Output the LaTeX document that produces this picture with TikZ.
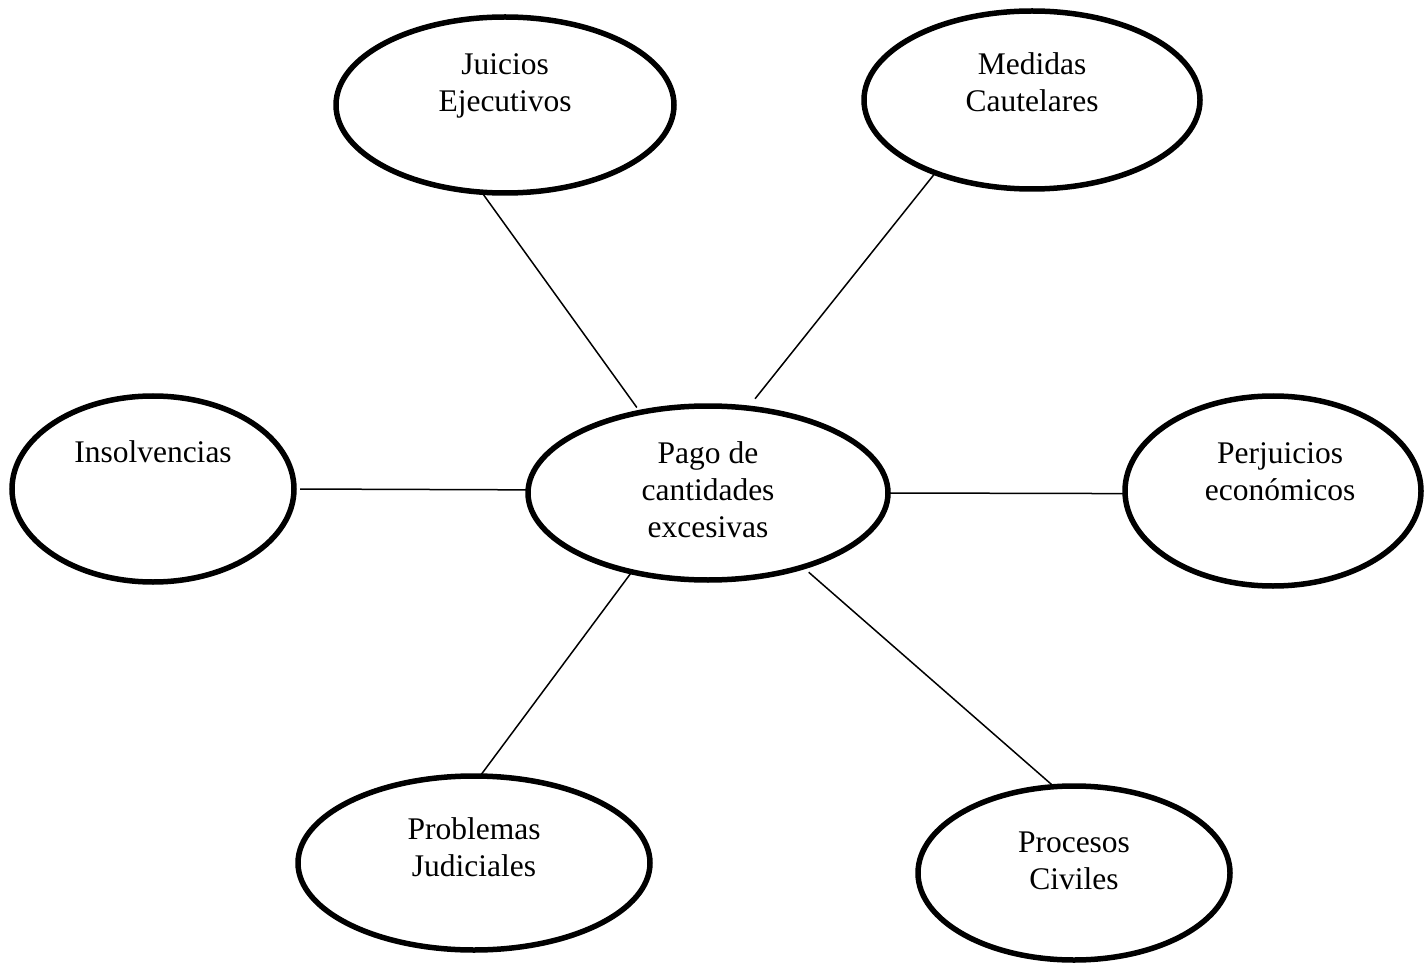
\documentclass[tikz,border=0pt]{standalone}
\usepackage{fontspec}
\setmainfont{Liberation Serif}
\usetikzlibrary{shapes.geometric}
\begin{document}
\begin{tikzpicture}[x=1pt,y=-1pt,
  ell/.style={ellipse,draw=black,line width=5.5pt,inner sep=0pt,outer sep=0pt},
  lbl/.style={anchor=base,inner sep=0pt,font=\fontsize{31.5}{37}\selectfont},
  conn/.style={draw=black,line width=1.5pt}]
\useasboundingbox (0,0) rectangle (1424,965);
% ellipses
\node[ell,minimum width=338,minimum height=176] (ju) at (505,105) {};
\node[ell,minimum width=336,minimum height=178] (me) at (1032,100) {};
\node[ell,minimum width=282,minimum height=186] (in) at (153,489) {};
\node[ell,minimum width=360,minimum height=174] (pg) at (708,493) {};
\node[ell,minimum width=296,minimum height=190] (pe) at (1273,491) {};
\node[ell,minimum width=352,minimum height=174] (pr) at (474,863) {};
\node[ell,minimum width=312,minimum height=174] (pc) at (1074,873) {};
% labels
\node[lbl] (tju) at (505,75) {\begin{tabular}[t]{@{}c@{}}Juicios\\Ejecutivos\end{tabular}};
\node[lbl] (tme) at (1032,75) {\begin{tabular}[t]{@{}c@{}}Medidas\\Cautelares\end{tabular}};
\node[lbl] (tin) at (153,462) {Insolvencias};
\node[lbl] (tpg) at (708,463) {\begin{tabular}[t]{@{}c@{}}Pago de\\cantidades\\excesivas\end{tabular}};
\node[lbl] (tpe) at (1280,463) {\begin{tabular}[t]{@{}c@{}}Perjuicios\\económicos\end{tabular}};
\node[lbl] (tpr) at (474,839) {\begin{tabular}[t]{@{}c@{}}Problemas\\Judiciales\end{tabular}};
\node[lbl] (tpc) at (1074,852) {\begin{tabular}[t]{@{}c@{}}Procesos\\Civiles\end{tabular}};
% connectors
\draw[conn,shorten <=-2pt,shorten >=6pt] (ju.-105) -- (pg.130);
\draw[conn,shorten >=12pt] (me.-143) -- (pg.65);
\draw[conn,shorten <=6pt] (in.0) -- (pg.179);
\draw[conn] (pg.0) -- (pe.181);
\draw[conn] (pg.-134) -- (pr.86);
\draw[conn,shorten <=8pt] (pg.-38) -- (pc.103);
\end{tikzpicture}
\end{document}
